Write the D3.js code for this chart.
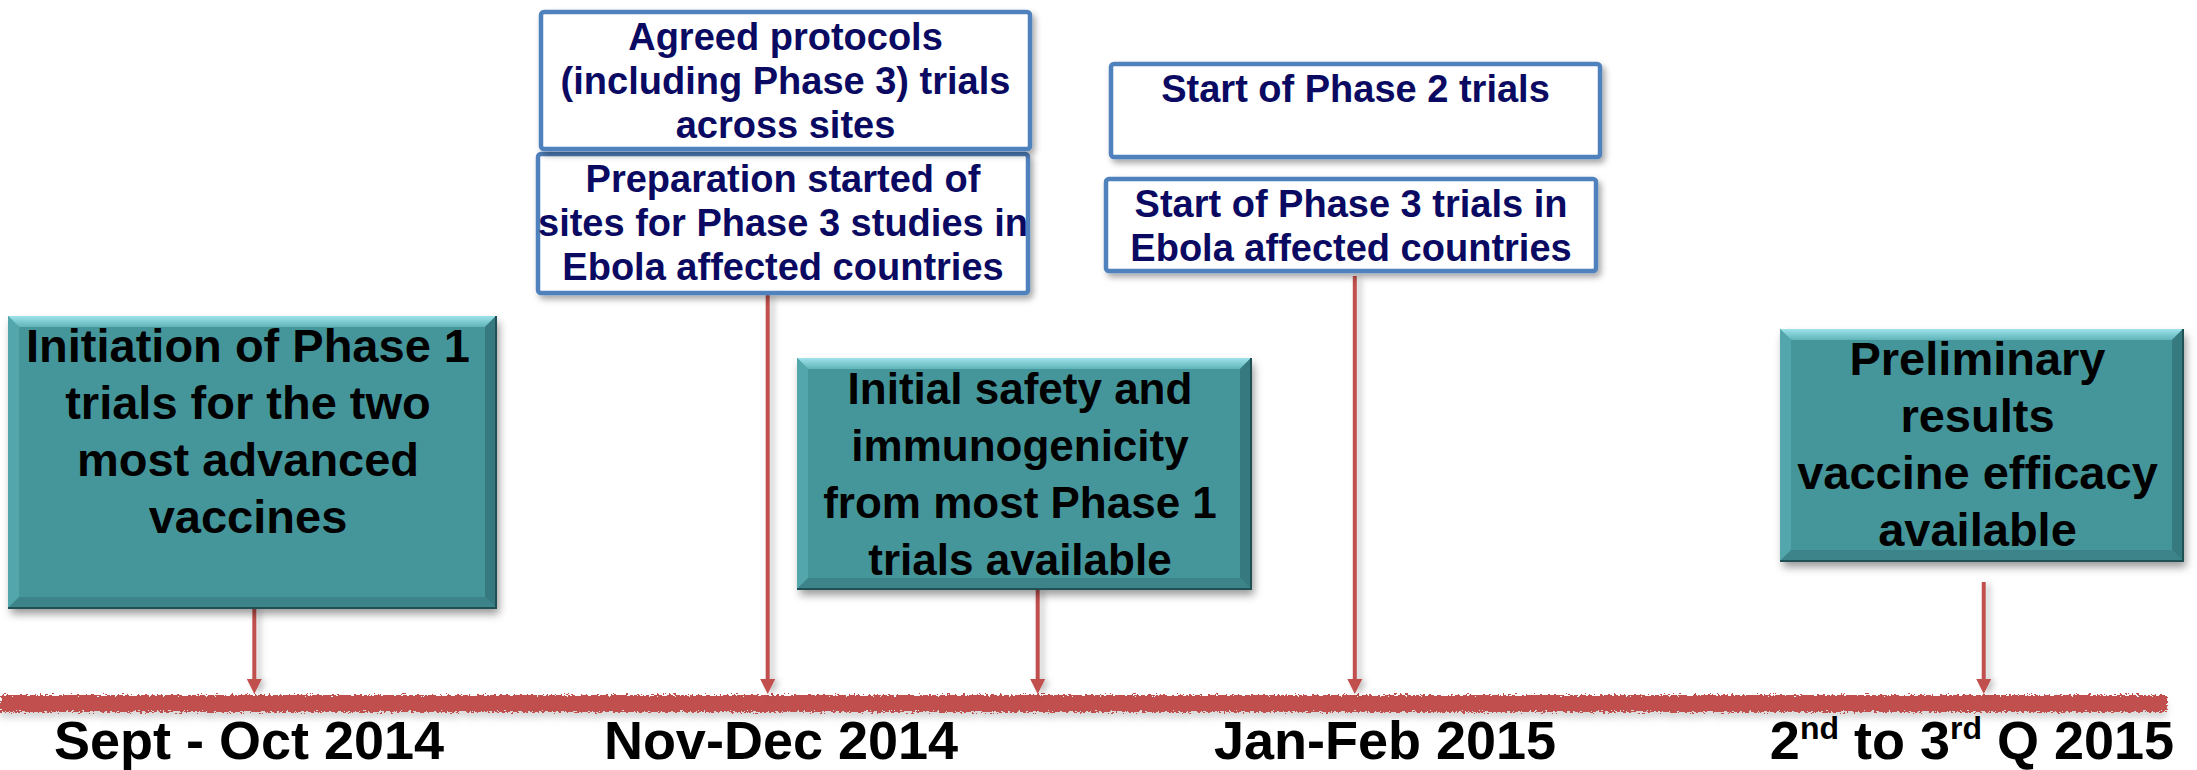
<!DOCTYPE html>
<html>
<head>
<meta charset="utf-8">
<script src="https://cdn.jsdelivr.net/npm/d3@7"></script>
<style>
  body { margin: 0; background: #fff; }
  text { font-family: "Liberation Sans", Arial, sans-serif; font-weight: bold; }
</style>
</head>
<body>
<script>
var W = 2197, H = 770;

// timeline periods (month index, Sept 2014 = 0)
var periods = ["Sept - Oct 2014", "Nov-Dec 2014", "Jan-Feb 2015", "2nd to 3rd Q 2015"];
var periodMonth = [1, 3, 5, 7.5];

// events pointing at the timeline
var eventMonth = [1.02, 2.95, 3.85, 4.9, 7.55];
var eventText = [
    ["Initiation of Phase 1", "trials for the two", "most advanced", "vaccines"],
    ["Preparation started of", "sites for Phase 3 studies in", "Ebola affected countries"],
    ["Initial safety and", "immunogenicity", "from most Phase 1", "trials available"],
    ["Start of Phase 3 trials in", "Ebola affected countries"],
    ["Preliminary", "results", "vaccine efficacy", "available"]
];
// boxes stacked on top of an event box
var extraText = [
    ["Agreed protocols", "(including Phase 3) trials", "across sites"],
    ["Start of Phase 2 trials"]
];

// box layout (annotation placement only)
var eventBox = [
    {kind: "teal", x: 8, y: 316, w: 488, h: 292, size: 47, arrowTop: 608},
    {kind: "line", x: 538, y: 154, w: 490, h: 139, size: 38, arrowTop: 295},
    {kind: "teal", x: 797, y: 358, w: 454, h: 231, size: 44, arrowTop: 589},
    {kind: "line", x: 1106, y: 179, w: 490, h: 92, size: 38, arrowTop: 276},
    {kind: "teal", x: 1780, y: 329, w: 403, h: 232, size: 47, arrowTop: 582}
];
var extraBox = [
    {kind: "line", x: 541, y: 12, w: 489, h: 137, size: 38},
    {kind: "line", x: 1111, y: 64, w: 489, h: 93, size: 38}
];

var x = d3.scaleLinear()
    .domain(periodMonth)
    .range([249, 781, 1385, 1972]);

var bandY = 703, bandEnd = 2167, labelY = 759;

var svg = d3.select('body').append('svg')
    .attr('width', W)
    .attr('height', H);

var defs = svg.append('defs');

var sh = defs.append('filter').attr('id', 'shadow')
    .attr('x', '-10%').attr('y', '-10%').attr('width', '120%').attr('height', '130%');
sh.append('feDropShadow').attr('dx', 3).attr('dy', 6).attr('stdDeviation', 4)
    .attr('flood-color', '#000').attr('flood-opacity', 0.4);

var sh2 = defs.append('filter').attr('id', 'shadowSmall')
    .attr('x', '-10%').attr('y', '-10%').attr('width', '120%').attr('height', '130%');
sh2.append('feDropShadow').attr('dx', 3).attr('dy', 4).attr('stdDeviation', 3)
    .attr('flood-color', '#000').attr('flood-opacity', 0.35);

// arrow shadow, in user space so thin shapes keep it
var sh3 = defs.append('filter').attr('id', 'shadowArrow')
    .attr('filterUnits', 'userSpaceOnUse')
    .attr('x', 0).attr('y', 0).attr('width', W).attr('height', H);
sh3.append('feDropShadow').attr('dx', 4).attr('dy', 2).attr('stdDeviation', 3)
    .attr('flood-color', '#000').attr('flood-opacity', 0.25);

// rough edge for the timeline band
var rough = defs.append('filter').attr('id', 'rough')
    .attr('x', '-1%').attr('y', '-100%').attr('width', '102%').attr('height', '300%');
rough.append('feTurbulence').attr('type', 'fractalNoise')
    .attr('baseFrequency', '0.35 0.6').attr('numOctaves', 2).attr('seed', 3).attr('result', 'noise');
rough.append('feDisplacementMap').attr('in', 'SourceGraphic').attr('in2', 'noise')
    .attr('scale', 7).attr('xChannelSelector', 'R').attr('yChannelSelector', 'G').attr('result', 'disp');
rough.append('feGaussianBlur').attr('in', 'disp').attr('stdDeviation', 3).attr('result', 'blur');
rough.append('feOffset').attr('in', 'blur').attr('dy', 6).attr('result', 'off');
rough.append('feColorMatrix').attr('in', 'off').attr('type', 'matrix')
    .attr('values', '0 0 0 0 0.4  0 0 0 0 0.4  0 0 0 0 0.4  0 0 0 0.45 0').attr('result', 'shade');
var mg = rough.append('feMerge');
mg.append('feMergeNode').attr('in', 'shade');
mg.append('feMergeNode').attr('in', 'disp');

var topGrad = defs.append('linearGradient').attr('id', 'bevelTop')
    .attr('x1', 0).attr('y1', 0).attr('x2', 0).attr('y2', 1);
topGrad.append('stop').attr('offset', '0%').attr('stop-color', '#9fe3ea');
topGrad.append('stop').attr('offset', '100%').attr('stop-color', '#5fb4ba');

// timeline band
svg.append('rect')
    .attr('x', 0)
    .attr('y', bandY - 8)
    .attr('width', bandEnd)
    .attr('height', 17)
    .attr('fill', '#c0504d')
    .attr('filter', 'url(#rough)');

// arrows
var arrows = svg.append('g').attr('filter', 'url(#shadowArrow)');
eventMonth.forEach(function (m, i) {
    var cx = x(m);
    var tip = bandY - 9;
    arrows.append('rect')
        .attr('x', cx - 2)
        .attr('y', eventBox[i].arrowTop)
        .attr('width', 4)
        .attr('height', tip - 12 - eventBox[i].arrowTop)
        .attr('fill', '#c0504d');
    arrows.append('path')
        .attr('d', 'M' + (cx - 7.5) + ',' + (tip - 15) + 'L' + (cx + 7.5) + ',' + (tip - 15) + 'L' + cx + ',' + tip + 'Z')
        .attr('fill', '#c0504d');
});

function drawBox(b, lines) {
    var g = svg.append('g');
    if (b.kind == "teal") {
        var x0 = b.x, y0 = b.y, x1 = b.x + b.w, y1 = b.y + b.h, bv = 11;
        g.append('rect')
            .attr('x', x0).attr('y', y0).attr('width', b.w).attr('height', b.h)
            .attr('fill', '#44969b')
            .attr('filter', 'url(#shadow)');
        var pts = function (a) { return a.map(function (p) { return p.join(','); }).join(' '); };
        g.append('polygon').attr('points', pts([[x0, y0], [x1, y0], [x1 - bv, y0 + bv], [x0 + bv, y0 + bv]]))
            .attr('fill', 'url(#bevelTop)');
        g.append('polygon').attr('points', pts([[x0, y0], [x0 + bv, y0 + bv], [x0 + bv, y1 - bv], [x0, y1]]))
            .attr('fill', '#52a6ac');
        g.append('polygon').attr('points', pts([[x1, y0], [x1, y1], [x1 - bv, y1 - bv], [x1 - bv, y0 + bv]]))
            .attr('fill', '#36797e');
        g.append('polygon').attr('points', pts([[x0, y1], [x0 + bv, y1 - bv], [x1 - bv, y1 - bv], [x1, y1]]))
            .attr('fill', '#3c8489');
        g.append('path')
            .attr('d', 'M' + x1 + ',' + y0 + 'L' + x1 + ',' + y1 + 'L' + x0 + ',' + y1)
            .attr('fill', 'none').attr('stroke', '#1f5053').attr('stroke-width', 2);
    } else {
        g.append('rect')
            .attr('x', b.x).attr('y', b.y).attr('width', b.w).attr('height', b.h)
            .attr('rx', 3)
            .attr('fill', '#fff')
            .attr('stroke', '#4f81bd')
            .attr('stroke-width', 4.5)
            .attr('filter', 'url(#shadowSmall)');
    }
    var first = b.kind == "teal" ? 46 : 38;
    var step = b.kind == "teal" ? 57 : 44;
    g.selectAll('text.l')
        .data(lines)
        .enter()
        .append('text')
        .attr('x', b.x + b.w / 2 - (b.kind == "teal" ? 4 : 0))
        .attr('y', function (d, j) { return b.y + first + j * step; })
        .attr('text-anchor', 'middle')
        .attr('font-size', b.size)
        .attr('fill', b.kind == "teal" ? '#000' : '#0a0a62')
        .text(function (d) { return d; });
}

eventBox.forEach(function (b, i) { drawBox(b, eventText[i]); });
extraBox.forEach(function (b, i) { drawBox(b, extraText[i]); });

// period labels
var labels = svg.append('g');
periods.forEach(function (p, i) {
    var t = labels.append('text')
        .attr('x', x(periodMonth[i]))
        .attr('y', labelY)
        .attr('text-anchor', 'middle')
        .attr('font-size', 54)
        .attr('fill', '#000');
    var sup = p.match(/^(\d)(nd) to (\d)(rd) (.*)$/);
    if (sup) {
        t.append('tspan').text(sup[1]);
        t.append('tspan').attr('dy', -20).attr('font-size', 32).text(sup[2]);
        t.append('tspan').attr('dy', 20).text(' to ' + sup[3]);
        t.append('tspan').attr('dy', -20).attr('font-size', 32).text(sup[4]);
        t.append('tspan').attr('dy', 20).text('  ' + sup[5]);
    } else {
        t.text(p);
    }
});
</script>
</body>
</html>
